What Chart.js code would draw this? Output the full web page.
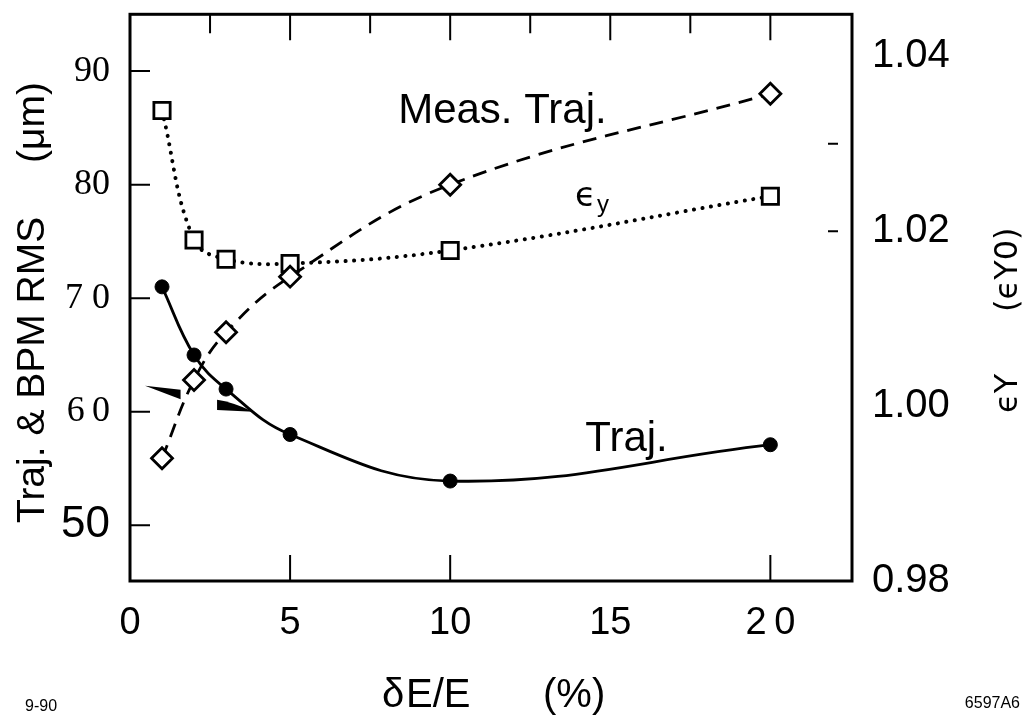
<!DOCTYPE html>
<html>
<head>
<meta charset="utf-8">
<script src="https://cdn.jsdelivr.net/npm/chart.js@4.4.0/dist/chart.umd.min.js"></script>
<style>
  html, body { margin: 0; padding: 0; background: #fff; }
  #wrap { width: 1029px; height: 716px; position: relative; }
</style>
</head>
<body>
<div id="wrap"><canvas id="chart"></canvas></div>
<script>
// Trajectory RMS and vertical emittance growth vs energy spread dE/E

const energySpread = [1, 2, 3, 5, 10, 20];                        // dE/E (%)
const trajRms = [71.0, 65.0, 62.0, 58.0, 53.9, 57.1];             // Traj. (um)
const measTrajRms = [55.9, 62.8, 67.0, 71.9, 80.0, 88.0];         // Meas. Traj. (um)
const emittanceY = [1.0338, 1.0190, 1.0168, 1.0163, 1.0178, 1.0240]; // eY / eY0

const xTicks = [0, 5, 10, 15, 20];
const xTickLabels = ['0', '5', '10', '15', '2\u20090'];
const leftTicks = [50, 60, 70, 80, 90];
const leftTickLabels = ['50', '6\u20090', '7 0', '80', '90'];
const rightTicks = [0.98, 1.00, 1.02, 1.04];
const rightTickLabels = ['0.98', '1.00', '1.02', '1.04'];
const topTickMarks = [2.5, 5, 7.5, 10, 12.5, 15, 17.5, 20];
const bottomTickMarks = [5, 10, 20];
const rightTickMarks = [1.02, 1.03];

const SANS = '"Liberation Sans", Arial, Helvetica, sans-serif';
const SERIF = '"Liberation Serif", "Times New Roman", serif';
const GREEK = '"DejaVu Sans", "Liberation Sans", sans-serif';

const pairs = (xs, ys) => xs.map((x, i) => ({ x: x, y: ys[i] }));

// keep the plot box where the figure has it
const fixWidth = w => s => { s.width = w; s.paddingTop = 0; s.paddingBottom = 0; };

// frame, tick marks, arrows, labels and axis titles
const decorations = {
  id: 'decorations',
  afterDraw(chart) {
    const ctx = chart.ctx;
    const { left, right, top, bottom } = chart.chartArea;
    const xs = chart.scales.x, yl = chart.scales.y, yr = chart.scales.y2;
    const px = v => xs.getPixelForValue(v);
    const pl = v => yl.getPixelForValue(v);
    const pr = v => yr.getPixelForValue(v);

    ctx.save();
    ctx.strokeStyle = '#000';
    ctx.fillStyle = '#000';

    // frame
    ctx.lineWidth = 3;
    ctx.strokeRect(left, top, right - left, bottom - top);

    // tick marks
    ctx.lineWidth = 2;
    ctx.beginPath();
    topTickMarks.forEach(v => {
      const len = v % 5 === 0 ? 26 : 19;
      ctx.moveTo(px(v), top); ctx.lineTo(px(v), top + len);
    });
    bottomTickMarks.forEach(v => {
      ctx.moveTo(px(v), bottom); ctx.lineTo(px(v), bottom - 26);
    });
    leftTicks.forEach(v => {
      ctx.moveTo(left, pl(v)); ctx.lineTo(left + 20, pl(v));
    });
    rightTickMarks.forEach(v => {
      ctx.moveTo(right - 24, pr(v)); ctx.lineTo(right - 14, pr(v));
    });
    ctx.stroke();

    // two black wedge arrows
    ctx.beginPath();
    ctx.moveTo(px(0.47), pl(62.3));
    ctx.lineTo(px(1.58), pl(61.95));
    ctx.lineTo(px(1.58), pl(61.1));
    ctx.closePath();
    ctx.fill();
    ctx.beginPath();
    ctx.moveTo(px(2.72), pl(61.05));
    ctx.quadraticCurveTo(px(3.2), pl(60.85), px(3.85), pl(60.0));
    ctx.lineTo(px(2.72), pl(60.15));
    ctx.closePath();
    ctx.fill();

    // curve labels
    ctx.textAlign = 'left';
    ctx.textBaseline = 'alphabetic';
    ctx.font = '42px ' + SANS;
    ctx.fillText('Meas. Traj.', px(8.375), pl(85.42));
    ctx.fillText('Traj.', px(14.22), pl(56.55));
    ctx.font = '34px ' + GREEK;
    const ex = px(13.9), ey = pl(78.16);
    ctx.fillText('\u03f5', ex, ey);
    const ew = ctx.measureText('\u03f5').width;
    ctx.font = '24px ' + SANS;
    ctx.fillText('y', ex + ew + 1, ey + 6);

    // left title (reads bottom to top)
    ctx.save();
    ctx.translate(44, 523);
    ctx.rotate(-Math.PI / 2);
    ctx.font = '39px ' + SANS;
    ctx.fillText('Traj. & BPM RMS', 0, 0);
    ctx.fillText('(\u03bcm)', 360, 0);
    ctx.restore();

    // right title (reads bottom to top)
    ctx.save();
    ctx.translate(1017, 413);
    ctx.rotate(-Math.PI / 2);
    ctx.font = '32px ' + GREEK;
    ctx.fillText('\u03f5Y', 0, 0);
    ctx.fillText('(\u03f5Y0)', 101, 0);
    ctx.restore();

    // bottom title
    ctx.font = '40px ' + SANS;
    ctx.fillText('\u03b4', 382, 707);
    ctx.fillText('E/E', 406, 707);
    ctx.fillText('(%)', 543, 707);

    // figure codes
    ctx.font = '16px ' + SANS;
    ctx.fillText('9-90', 25, 711);
    ctx.textAlign = 'right';
    ctx.fillText('6597A6', 1020, 708);

    ctx.restore();
  }
};

new Chart(document.getElementById('chart'), {
  type: 'line',
  data: {
    datasets: [
      {
        label: 'Traj.',
        data: pairs(energySpread, trajRms),
        yAxisID: 'y',
        borderColor: '#000',
        borderWidth: 2.8,
        tension: 0.4,
        pointStyle: 'circle',
        pointRadius: 7,
        pointBackgroundColor: '#000',
        pointBorderColor: '#000',
        pointBorderWidth: 1
      },
      {
        label: 'Meas. Traj.',
        data: pairs(energySpread, measTrajRms),
        yAxisID: 'y',
        borderColor: '#000',
        borderWidth: 2.8,
        borderDash: [14, 9],
        tension: 0.4,
        pointStyle: 'rectRot',
        pointRadius: 10.5,
        pointBackgroundColor: '#fff',
        pointBorderColor: '#000',
        pointBorderWidth: 2.8
      },
      {
        label: '\u03f5y',
        data: pairs(energySpread, emittanceY),
        yAxisID: 'y2',
        borderColor: '#000',
        borderWidth: 4,
        borderDash: [0.1, 8.5],
        borderCapStyle: 'round',
        tension: 0.4,
        pointStyle: 'rect',
        pointRadius: 11.5,
        pointBackgroundColor: '#fff',
        pointBorderColor: '#000',
        pointBorderWidth: 2.8
      }
    ]
  },
  options: {
    responsive: true,
    maintainAspectRatio: false,
    animation: false,
    layout: { padding: { top: 11, left: 0, right: 0, bottom: 0 } },
    plugins: {
      legend: { display: false },
      tooltip: { enabled: false },
      title: { display: false }
    },
    scales: {
      x: {
        type: 'linear',
        min: 0,
        max: 22.55,
        grid: { display: false, drawTicks: false },
        border: { display: false },
        afterBuildTicks: s => { s.ticks = xTicks.map(v => ({ value: v })); },
        afterFit: s => { s.height = 135; s.paddingLeft = 0; s.paddingRight = 0; },
        ticks: {
          autoSkip: false,
          maxRotation: 0,
          padding: 20,
          color: '#000',
          font: { family: SANS, size: 38 },
          callback: (v, i) => xTickLabels[i]
        }
      },
      y: {
        position: 'left',
        min: 45.1,
        max: 95,
        grid: { display: false, drawTicks: false },
        border: { display: false },
        afterBuildTicks: s => { s.ticks = leftTicks.map(v => ({ value: v })); },
        afterFit: fixWidth(130),
        ticks: {
          padding: 20,
          color: '#000',
          font: c => (c.tick && c.tick.value === 50)
            ? { family: SANS, size: 44 }
            : { family: SERIF, size: 36 },
          callback: (v, i) => leftTickLabels[i]
        }
      },
      y2: {
        position: 'right',
        min: 0.98,
        max: 1.0448,
        grid: { display: false, drawTicks: false },
        border: { display: false },
        afterBuildTicks: s => { s.ticks = rightTicks.map(v => ({ value: v })); },
        afterFit: fixWidth(177),
        ticks: {
          padding: 20,
          color: '#000',
          font: { family: SANS, size: 40 },
          callback: (v, i) => rightTickLabels[i]
        }
      }
    }
  },
  plugins: [decorations]
});
</script>
</body>
</html>
